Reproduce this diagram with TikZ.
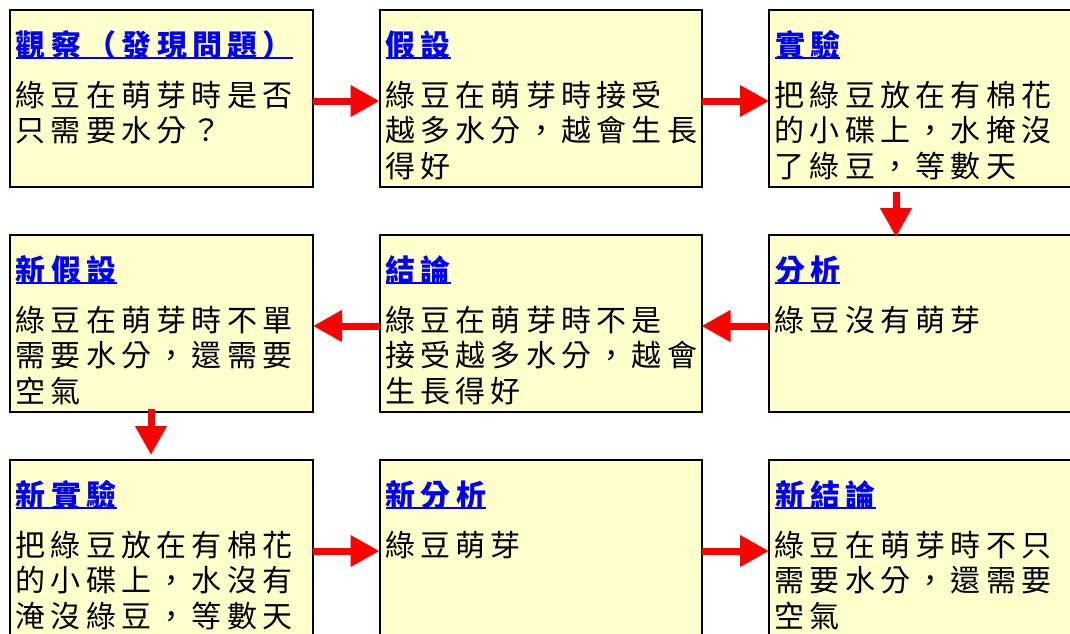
\documentclass[tikz,border=0pt]{standalone}
\usepackage{fontspec}
\usetikzlibrary{arrows.meta}
\newfontfamily\cjk{Noto Sans CJK TC}[LetterSpace=17.5]
\definecolor{boxfill}{HTML}{FFFFCC}
\newcommand\flowbox[7]{%
  \node[boxst, minimum width=#4pt, minimum height=#5pt] (#1) at (#2,#3) {};
  \node[titlest] (#1t) at (#2+6,#3+46) {#6};
  \draw[ulst] ([yshift=-2pt]#1t.base west) -- ([yshift=-2pt]#1t.base east);
  \foreach \ln [count=\i] in {#7} {
    \node[bodyst] (#1l\i) at (#2+5.5,#3+60.5+35.5*\i) {\ln};
  }
}
\begin{document}
\begin{tikzpicture}[x=1pt,y=-1pt,
  boxst/.style={draw=black, line width=2pt, fill=boxfill, anchor=north west, inner sep=0pt, outer sep=0pt},
  titlest/.style={anchor=base west, inner sep=0pt, outer sep=0pt, text=blue, font=\cjk\bfseries\fontsize{30}{30}\selectfont},
  bodyst/.style={anchor=base west, inner sep=0pt, outer sep=0pt, text=black, font=\cjk\fontsize{30}{30}\selectfont},
  ulst/.style={draw=blue, line width=2pt},
  arr/.style={draw=red, line width=7pt, -{Triangle[length=29pt,width=30pt]}},
]
\useasboundingbox[fill=white] (0,0) rectangle (1070,633);
\flowbox{b1}{10}{10}{303}{177}{觀察（發現問題）}{綠豆在萌芽時是否,只需要水分？}
\flowbox{b2}{379.5}{10}{322}{177}{假設}{綠豆在萌芽時接受,越多水分，越會生長,得好}
\flowbox{b3}{769}{10}{340}{177}{實驗}{把綠豆放在有棉花,的小碟上，水掩沒,了綠豆，等數天}
\flowbox{b4}{10}{235}{303}{177}{新假設}{綠豆在萌芽時不單,需要水分，還需要,空氣}
\flowbox{b5}{379.5}{235}{322}{177}{結論}{綠豆在萌芽時不是,接受越多水分，越會,生長得好}
\flowbox{b6}{769}{235}{340}{177}{分析}{綠豆沒有萌芽}
\flowbox{b7}{10}{460}{303}{200}{新實驗}{把綠豆放在有棉花,的小碟上，水沒有,淹沒綠豆，等數天}
\flowbox{b8}{379.5}{460}{322}{200}{新分析}{綠豆萌芽}
\flowbox{b9}{769}{460}{340}{200}{新結論}{綠豆在萌芽時不只,需要水分，還需要,空氣}
\draw[arr] ([yshift=-91pt]b1.north east) -- ([yshift=-91pt]b2.north west);
\draw[arr] ([yshift=-91pt]b2.north east) -- ([yshift=-91pt]b3.north west);
\draw[arr] ([xshift=127pt,yshift=-5pt]b3.south west) -- ([xshift=127pt,yshift=-2pt]b6.north west);
\draw[arr] ([yshift=-91pt]b6.north west) -- ([yshift=-91pt]b5.north east);
\draw[arr] ([yshift=-91pt]b5.north west) -- ([yshift=-91pt]b4.north east);
\draw[arr] ([xshift=141pt,yshift=3pt]b4.south west) -- ([xshift=141pt,yshift=5pt]b7.north west);
\draw[arr] ([yshift=-91pt]b7.north east) -- ([yshift=-91pt]b8.north west);
\draw[arr] ([yshift=-91pt]b8.north east) -- ([yshift=-91pt]b9.north west);
\end{tikzpicture}
\end{document}
